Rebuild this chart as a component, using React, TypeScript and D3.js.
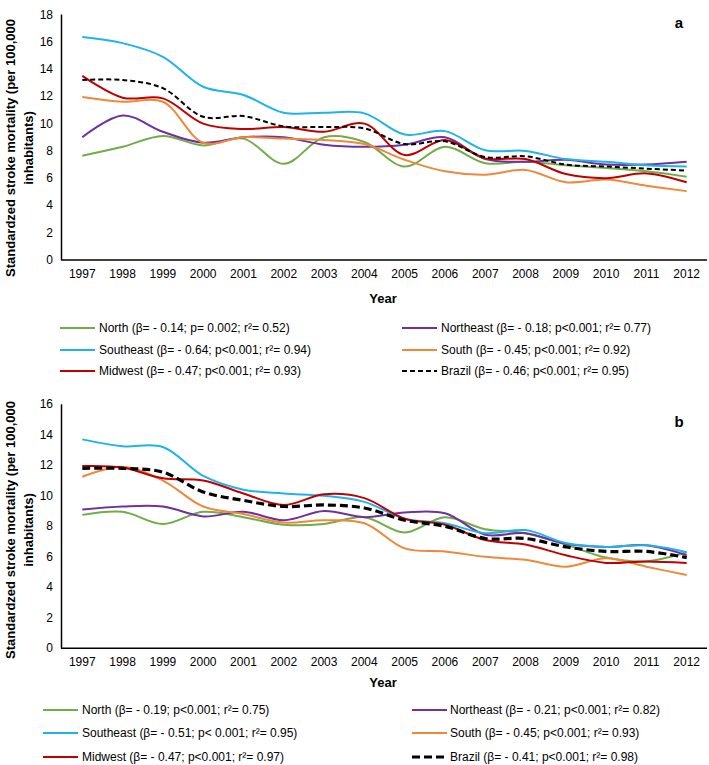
import React from "react";
import * as d3 from "d3";

const years = [1997,1998,1999,2000,2001,2002,2003,2004,2005,2006,2007,2008,2009,2010,2011,2012];

// Panel a
const northA = [7.65,8.3,9.1,8.4,8.9,7.05,9.0,8.65,6.85,8.3,7.1,7.2,6.95,6.75,6.5,6.1];
const northeastA = [9.0,10.6,9.4,8.6,9.0,9.0,8.45,8.3,8.45,9.0,7.4,7.2,7.35,7.0,7.0,7.2];
const southeastA = [16.35,15.9,14.9,12.7,12.1,10.8,10.8,10.75,9.2,9.45,8.05,8.0,7.4,7.2,6.95,6.85];
const southA = [11.95,11.6,11.6,8.6,9.0,8.9,8.8,8.5,7.35,6.5,6.25,6.6,5.7,5.9,5.45,5.05];
const midwestA = [13.5,11.9,11.85,10.0,9.6,9.75,9.4,10.0,7.7,8.8,7.45,7.4,6.3,6.0,6.35,5.7];
const brazilA = [13.2,13.2,12.6,10.5,10.55,9.8,9.75,9.65,8.5,8.7,7.55,7.6,7.0,6.85,6.7,6.55];

// Panel b
const northB = [8.75,8.95,8.15,8.95,8.6,8.1,8.15,8.6,7.6,8.6,7.8,7.55,6.8,5.95,5.7,6.3];
const northeastB = [9.1,9.3,9.3,8.65,8.95,8.4,9.0,8.6,8.9,8.85,7.45,7.55,6.85,6.65,6.75,6.1];
const southeastB = [13.7,13.25,13.2,11.3,10.4,10.15,10.0,9.6,8.5,8.2,7.55,7.75,6.9,6.65,6.75,6.3];
const southB = [11.25,11.9,11.0,9.3,8.8,8.25,8.4,8.2,6.55,6.35,6.0,5.8,5.35,5.9,5.35,4.8];
const midwestB = [11.95,11.85,11.15,11.0,10.15,9.4,10.1,9.85,8.5,8.1,7.1,6.8,6.1,5.6,5.7,5.6];
const brazilB = [11.8,11.8,11.55,10.25,9.7,9.3,9.4,9.2,8.4,8.0,7.2,7.2,6.65,6.35,6.35,5.95];

const legendA = [
  "North (β= - 0.14; p= 0.002; r²= 0.52)",
  "Northeast (β= - 0.18; p<0.001; r²= 0.77)",
  "Southeast  (β= - 0.64; p<0.001; r²= 0.94)",
  "South (β= - 0.45; p<0.001; r²= 0.92)",
  "Midwest (β= - 0.47; p<0.001; r²= 0.93)",
  "Brazil (β= - 0.46; p<0.001; r²= 0.95)",
];
const legendB = [
  "North (β= - 0.19; p<0.001; r²= 0.75)",
  "Northeast (β= - 0.21; p<0.001; r²= 0.82)",
  "Southeast (β= - 0.51; p< 0.001; r²= 0.95)",
  "South (β= - 0.45; p<0.001; r²= 0.93)",
  "Midwest (β= - 0.47; p<0.001; r²= 0.97)",
  "Brazil (β= - 0.41; p<0.001; r²= 0.98)",
];
const ticksA = [0,2,4,6,8,10,12,14,16,18];
const ticksB = [0,2,4,6,8,10,12,14,16];

const colors = ["#70AD47", "#7030A0", "#1FB3EC", "#F0883A", "#C00000", "#000000"];
const FONT = "'Liberation Sans', Arial, Helvetica, sans-serif";

type PanelProps = {
  series: number[][];
  ticks: number[];
  yMax: number;
  y0: number;
  yTop: number;
  label: string;
  labelY: number;
  xLabelY: number;
  yearY: number;
  titleCenter: number;
  legend: string[];
  legendRows: number[];
  legendLeft: [number, number];
  legendRight: [number, number];
  brazilWidth: number;
  brazilDash: string;
};

function Panel(p: PanelProps) {
  const x = d3.scalePoint<number>().domain(years).range([82.3, 686.7]);
  const y = d3.scaleLinear().domain([0, p.yMax]).range([p.y0, p.yTop]);
  const line = d3
    .line<number>()
    .x((_, i) => x(years[i]) as number)
    .y((d) => y(d))
    .curve(d3.curveCatmullRom.alpha(0.5));
  const order = [0, 1, 2, 3, 4, 5];
  return (
    <g>
      {/* axes */}
      <line x1={61.5} x2={61.5} y1={y(p.yMax)} y2={p.y0} stroke="#000" strokeWidth={1.5} />
      <line x1={61} x2={707} y1={p.y0} y2={p.y0} stroke="#000" strokeWidth={1.5} />
      {p.ticks.map((t) => (
        <text key={t} x={53} y={y(t)} textAnchor="end" dominantBaseline="central" fontSize={12} fontFamily={FONT}>
          {t}
        </text>
      ))}
      {years.map((yr) => (
        <text key={yr} x={x(yr)} y={p.xLabelY} textAnchor="middle" dominantBaseline="central" fontSize={12} fontFamily={FONT}>
          {yr}
        </text>
      ))}
      <text x={383} y={p.yearY} textAnchor="middle" dominantBaseline="central" fontSize={13} fontWeight="bold" fontFamily={FONT}>
        Year
      </text>
      <text x={679} y={p.labelY} textAnchor="middle" dominantBaseline="central" fontSize={15} fontWeight="bold" fontFamily={FONT}>
        {p.label}
      </text>
      <g transform={`translate(0,${p.titleCenter}) rotate(-90)`}>
        <text x={0} y={10} textAnchor="middle" dominantBaseline="central" fontSize={13} fontWeight="bold" fontFamily={FONT}>
          Standardzed stroke mortality (per 100,000
        </text>
        <text x={0} y={28} textAnchor="middle" dominantBaseline="central" fontSize={13} fontWeight="bold" fontFamily={FONT}>
          inhabitants)
        </text>
      </g>
      {/* lines */}
      {order.map((k) => (
        <path
          key={k}
          d={line(p.series[k]) || ""}
          fill="none"
          stroke={colors[k]}
          strokeWidth={k === 5 ? p.brazilWidth : 2}
          strokeDasharray={k === 5 ? p.brazilDash : undefined}
        />
      ))}
      {/* legend */}
      {p.legend.map((txt, i) => {
        const col = i % 2;
        const row = Math.floor(i / 2);
        const [lx, tx] = col === 0 ? p.legendLeft : p.legendRight;
        const ly = p.legendRows[row];
        return (
          <g key={i}>
            <line
              x1={lx}
              x2={lx + 35}
              y1={ly}
              y2={ly}
              stroke={colors[i]}
              strokeWidth={i === 5 ? p.brazilWidth : 2}
              strokeDasharray={i === 5 ? p.brazilDash : undefined}
            />
            <text x={tx} y={ly} dominantBaseline="central" fontSize={12} fontFamily={FONT}>
              {txt}
            </text>
          </g>
        );
      })}
    </g>
  );
}

export default function App() {
  return (
    <svg
      width={709}
      height={765}
      style={{ position: "absolute", left: 0, top: 0, background: "#fff" }}
    >
      <Panel
        series={[northA, northeastA, southeastA, southA, midwestA, brazilA]}
        ticks={ticksA}
        yMax={18}
        y0={260}
        yTop={14.5}
        label="a"
        labelY={22}
        xLabelY={274}
        yearY={298}
        titleCenter={148}
        legend={legendA}
        legendRows={[328, 350, 371]}
        legendLeft={[60, 99]}
        legendRight={[402, 441]}
        brazilWidth={2}
        brazilDash="5,3"
      />
      <Panel
        series={[northB, northeastB, southeastB, southB, midwestB, brazilB]}
        ticks={ticksB}
        yMax={16}
        y0={648.3}
        yTop={404.3}
        label="b"
        labelY={421}
        xLabelY={662}
        yearY={682}
        titleCenter={530}
        legend={legendB}
        legendRows={[710, 733, 757]}
        legendLeft={[43, 82]}
        legendRight={[412, 450]}
        brazilWidth={3.2}
        brazilDash="8,4"
      />
    </svg>
  );
}
